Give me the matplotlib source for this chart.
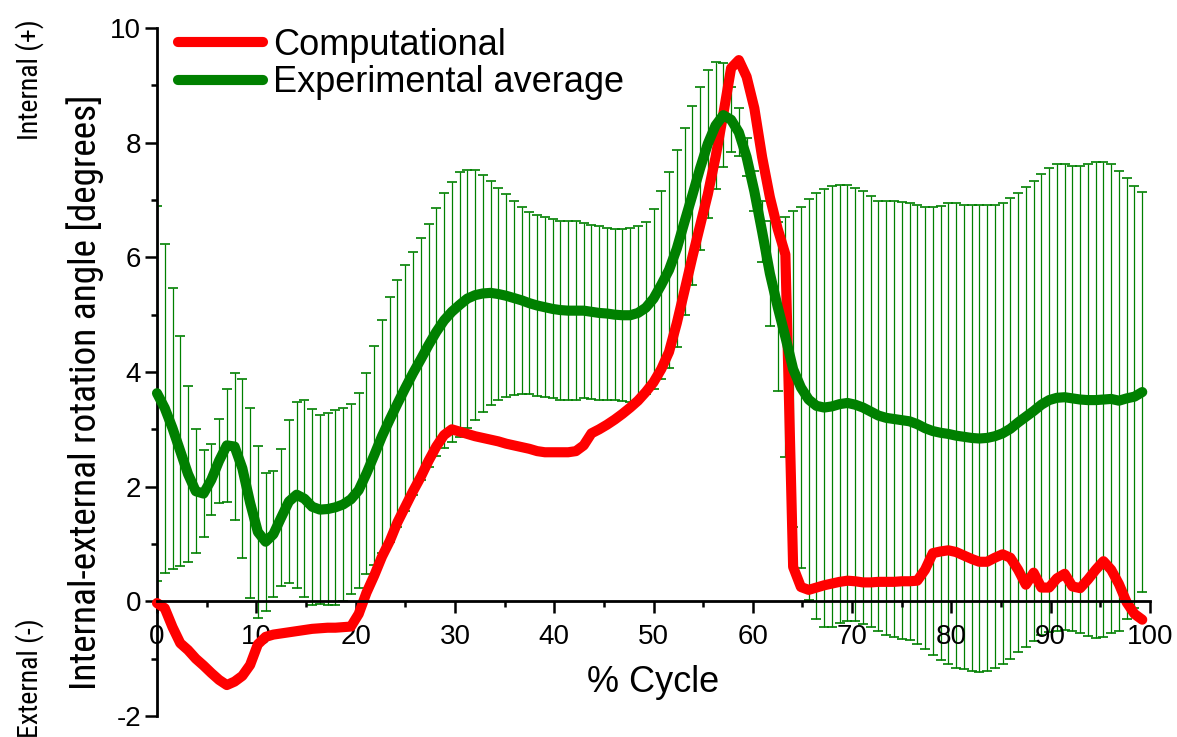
import numpy as np
import matplotlib.pyplot as plt
from matplotlib import font_manager as fm
from matplotlib.ticker import MultipleLocator

# gait cycle sampled at 128 points (0 .. 99.2 %)
n_samples = 128
cycle = np.arange(n_samples) * 100.0 / n_samples

computational = [
    -0.03, -0.12, -0.45, -0.73, -0.85, -1.00, -1.12, -1.25, -1.37, -1.46,
    -1.40, -1.30, -1.11, -0.75, -0.62, -0.58, -0.56, -0.54, -0.52, -0.50,
    -0.48, -0.47, -0.46, -0.46, -0.45, -0.44, -0.22, 0.15, 0.45, 0.78,
    1.05, 1.38, 1.65, 1.92, 2.17, 2.45, 2.70, 2.90, 3.00, 2.96,
    2.92, 2.88, 2.85, 2.82, 2.79, 2.75, 2.72, 2.69, 2.66, 2.62,
    2.60, 2.60, 2.60, 2.60, 2.62, 2.72, 2.93, 3.00, 3.08, 3.17,
    3.27, 3.38, 3.50, 3.65, 3.82, 4.05, 4.35, 4.85, 5.42, 6.00,
    6.55, 7.10, 7.75, 8.50, 9.30, 9.44, 9.15, 8.60, 7.75, 7.05,
    6.50, 6.05, 0.60, 0.25, 0.20, 0.24, 0.28, 0.31, 0.34, 0.36,
    0.35, 0.33, 0.33, 0.34, 0.34, 0.34, 0.35, 0.35, 0.36, 0.55,
    0.84, 0.87, 0.89, 0.86, 0.80, 0.74, 0.69, 0.69, 0.76, 0.82,
    0.76, 0.55, 0.29, 0.50, 0.24, 0.24, 0.40, 0.48, 0.26, 0.23,
    0.38, 0.55, 0.70, 0.55, 0.30, -0.02, -0.22, -0.32,
]

exp_mean = [
    3.63, 3.37, 3.02, 2.62, 2.22, 1.92, 1.88, 2.12, 2.45, 2.72,
    2.70, 2.32, 1.72, 1.21, 1.04, 1.17, 1.46, 1.74, 1.86, 1.79,
    1.65, 1.60, 1.61, 1.64, 1.69, 1.78, 1.94, 2.23, 2.55, 2.88,
    3.17, 3.45, 3.72, 3.98, 4.22, 4.47, 4.70, 4.90, 5.05, 5.17,
    5.28, 5.34, 5.37, 5.38, 5.36, 5.33, 5.29, 5.25, 5.20, 5.16,
    5.13, 5.10, 5.08, 5.07, 5.07, 5.07, 5.05, 5.03, 5.02, 5.00,
    4.99, 4.99, 5.03, 5.12, 5.28, 5.52, 5.78, 6.15, 6.62, 7.08,
    7.55, 7.98, 8.30, 8.48, 8.40, 8.18, 7.75, 7.15, 6.45, 5.72,
    5.14, 4.61, 4.05, 3.73, 3.52, 3.41, 3.38, 3.40, 3.44, 3.46,
    3.43, 3.38, 3.31, 3.24, 3.20, 3.18, 3.16, 3.14, 3.09, 3.02,
    2.97, 2.94, 2.92, 2.89, 2.87, 2.85, 2.84, 2.85, 2.88, 2.93,
    3.01, 3.12, 3.22, 3.32, 3.43, 3.51, 3.55, 3.56, 3.54, 3.52,
    3.51, 3.51, 3.52, 3.53, 3.50, 3.54, 3.57, 3.65,
]

exp_sd = [
    3.27, 2.87, 2.45, 2.01, 1.54, 1.08, 0.76, 0.62, 0.73, 0.98,
    1.28, 1.56, 1.66, 1.50, 1.20, 1.10, 1.20, 1.42, 1.62, 1.72,
    1.71, 1.65, 1.67, 1.70, 1.68, 1.66, 1.70, 1.75, 1.91, 2.03,
    2.14, 2.16, 2.15, 2.12, 2.11, 2.12, 2.16, 2.23, 2.27, 2.31,
    2.25, 2.18, 2.07, 1.96, 1.85, 1.77, 1.69, 1.63, 1.59, 1.58,
    1.57, 1.56, 1.56, 1.56, 1.56, 1.53, 1.52, 1.52, 1.50, 1.49,
    1.50, 1.52, 1.52, 1.50, 1.57, 1.64, 1.71, 1.72, 1.63, 1.56,
    1.42, 1.29, 1.11, 0.91, 0.57, 0.42, 0.33, 0.35, 0.54, 0.92,
    1.48, 2.09, 2.75, 3.15, 3.50, 3.72, 3.82, 3.85, 3.82, 3.80,
    3.78, 3.78, 3.76, 3.75, 3.78, 3.80, 3.81, 3.81, 3.83, 3.86,
    3.91, 3.96, 4.02, 4.06, 4.05, 4.06, 4.07, 4.06, 4.04, 4.02,
    4.02, 4.01, 4.01, 4.01, 4.02, 4.05, 4.07, 4.06, 4.06, 4.08,
    4.12, 4.15, 4.14, 4.09, 4.01, 3.85, 3.68, 3.49,
]

x_ticks = [0, 10, 20, 30, 40, 50, 60, 70, 80, 90, 100]
y_ticks = [-2, 0, 2, 4, 6, 8, 10]

plt.rcParams['font.family'] = 'Liberation Sans'
plt.rcParams['axes.unicode_minus'] = False

# a narrow face for the y-axis wording, if one is installed
narrow = fm.FontProperties(family='Liberation Sans')
wanted = ['liberationsansnarrow-regular', 'robotocondensed-regular',
          'opensans_condensed-regular', 'opensans-condensed', 'notosans-condensed.',
          'dejavusanscondensed.ttf']
files = [f.fname for f in fm.fontManager.ttflist]
for key in wanted:
    hit = [p for p in files if key in p.lower().replace(' ', '')]
    if hit:
        narrow = fm.FontProperties(fname=hit[0])
        break

fig = plt.figure(figsize=(11.77, 7.37), dpi=100)
ax = fig.add_axes([157 / 1177, 21 / 737, 993 / 1177, 688 / 737])

eb = ax.errorbar(cycle, exp_mean, yerr=exp_sd, fmt='none', ecolor='#008000',
                 elinewidth=0.9, capsize=3.4, capthick=1.2, zorder=1)
for cap in eb[1]:
    cap.set_color('#5aad5a')

ax.plot(cycle, computational, color='#ff0000', lw=7.3, solid_capstyle='round',
        solid_joinstyle='round', label='Computational', zorder=3, clip_on=False)
ax.plot(cycle, exp_mean, color='#008000', lw=7.3, solid_capstyle='round',
        solid_joinstyle='round', label='Experimental average', zorder=4, clip_on=False)

ax.set_xlim(0, 100)
ax.set_ylim(-2, 10)
ax.set_xticks(x_ticks)
ax.set_yticks(y_ticks)
ax.xaxis.set_minor_locator(MultipleLocator(5))
ax.yaxis.set_minor_locator(MultipleLocator(1))

ax.spines['top'].set_visible(False)
ax.spines['right'].set_visible(False)
ax.spines['bottom'].set_position(('data', 0))
ax.spines['bottom'].set_zorder(5)
for s in ('left', 'bottom'):
    ax.spines[s].set_linewidth(2)

ax.tick_params(axis='both', which='major', direction='out', length=8.5, width=1.8,
               labelsize=20, colors='black')
ax.tick_params(axis='both', which='minor', direction='out', length=4, width=1.8)
ax.tick_params(axis='x', which='major', pad=8)
ax.tick_params(axis='y', which='major', pad=3)

fig.text(653 / 1177, 1 - 682 / 737, '% Cycle', fontsize=26, ha='center', va='center')
ylab = fig.text(85 / 1177, 1 - 392 / 737, 'Internal-external rotation angle [degrees]',
                fontproperties=narrow, fontsize=23, rotation=90,
                ha='center', va='center')
t_int = fig.text(30 / 1177, 1 - 80 / 737, 'Internal (+)', fontproperties=narrow,
                 fontsize=16, rotation=90, ha='center', va='center')
t_ext = fig.text(30 / 1177, 1 - 678 / 737, 'External (-)', fontproperties=narrow,
                 fontsize=16, rotation=90, ha='center', va='center')

ax.legend(loc='upper left', bbox_to_anchor=(178 / 1177, 1 - 28 / 737),
          bbox_transform=fig.transFigure, frameon=False, fontsize=26,
          handlelength=2.36, handletextpad=0.27, labelspacing=0.06,
          borderpad=0, borderaxespad=0)

# size the rotated side labels to the lengths seen in the original
fig.canvas.draw()
renderer = fig.canvas.get_renderer()
for txt, length_px in ((ylab, 597), (t_int, 122), (t_ext, 120)):
    for _ in range(3):
        h = txt.get_window_extent(renderer).height
        txt.set_fontsize(txt.get_fontsize() * length_px / h)

fig.savefig('out.png', dpi=100)
